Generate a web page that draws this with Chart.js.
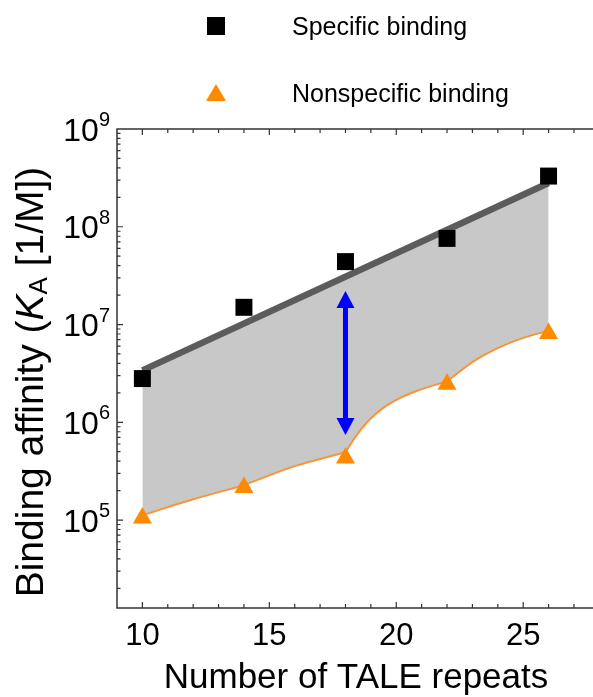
<!DOCTYPE html>
<html>
<head>
<meta charset="utf-8">
<script src="https://cdn.jsdelivr.net/npm/chart.js@4.4.1/dist/chart.umd.min.js"></script>
<style>
  html, body { margin: 0; padding: 0; background: #fff; }
  #wrap { width: 593px; height: 697px; }
</style>
</head>
<body>
<div id="wrap"><canvas id="chart" width="593" height="697"></canvas></div>
<script>
  // datos
  const repeats = [10, 14, 18, 22, 26];
  const specific = [2.8e6, 1.5e7, 4.4e7, 7.6e7, 3.3e8];
  const nonspecific = [1.05e5, 2.15e5, 4.3e5, 2.45e6, 8.1e6];
  // recta de ajuste (gris oscuro)
  const fitX = [10, 26];
  const fitY = [3.4e6, 2.8e8];
  // curva naranja, un tramo entre cada par de triangulos
  const curve1X = [10, 12, 14];
  const curve1Y = [1.12e5, 1.63e5, 2.27e5];
  const curve2X = [14, 16, 18];
  const curve2Y = [2.27e5, 3.56e5, 4.94e5];
  const curve3X = [18, 18.4, 18.8, 19.2, 19.6, 20.2, 20.8, 21.4, 22];
  const curve3Y = [4.94e5, 7.14e5, 9.66e5, 1.22e6, 1.47e6, 1.8e6, 2.09e6, 2.36e6, 2.62e6];
  const curve4X = [22, 23, 23.68, 24.35, 24.98, 25.65, 26];
  const curve4Y = [2.62e6, 4.12e6, 5.22e6, 6.3e6, 7.26e6, 8.17e6, 8.56e6];
  const xTicks = [10, 15, 20, 25];
  const yDecades = [5, 6, 7, 8, 9];
  const arrowX = 18;
  const arrowFrom = 7.4e5;
  const arrowTo = 2.2e7;

  const FONT = '"Liberation Sans", Arial, sans-serif';
  const orange = "#ff8a00";
  const orangeLine = "#f7953a";
  const gris = "#c8c8c8";

  const pts = (xs, ys) => xs.map((x, i) => ({ x: x, y: ys[i] }));

  const tramos = [
    [curve1X, curve1Y],
    [curve2X, curve2Y],
    [curve3X, curve3Y],
    [curve4X, curve4Y],
  ];

  // borde inferior del relleno: todos los tramos unidos (sin repetir los nudos)
  const bordeX = [];
  const bordeY = [];
  tramos.forEach(([xs, ys], i) => {
    const desde = i === 0 ? 0 : 1;
    bordeX.push(...xs.slice(desde));
    bordeY.push(...ys.slice(desde));
  });

  // marco, ticks, textos y flecha
  const decoraciones = {
    id: "decoraciones",
    afterDraw(chart) {
      const ctx = chart.ctx;
      const xs = chart.scales.x;
      const ys = chart.scales.y;
      const a = chart.chartArea;

      ctx.save();
      ctx.strokeStyle = "#333";
      ctx.lineWidth = 1.5;
      ctx.beginPath();
      ctx.moveTo(a.right, a.top);
      ctx.lineTo(a.left, a.top);
      ctx.lineTo(a.left, a.bottom);
      ctx.lineTo(a.right, a.bottom);
      ctx.stroke();

      // ticks hacia adentro
      ctx.lineWidth = 1.2;
      ctx.beginPath();
      for (let v = 10; v <= 27; v++) {
        const px = xs.getPixelForValue(v);
        const len = v % 5 === 0 ? 6 : 4;
        ctx.moveTo(px, a.bottom);
        ctx.lineTo(px, a.bottom - len);
        ctx.moveTo(px, a.top);
        ctx.lineTo(px, a.top + len);
      }
      for (let d = 4; d <= 8; d++) {
        for (let m = 1; m <= 9; m++) {
          const val = m * Math.pow(10, d);
          if (val < ys.min || val > ys.max) continue;
          const py = ys.getPixelForValue(val);
          const len = m === 1 ? 6 : 3.5;
          ctx.moveTo(a.left, py);
          ctx.lineTo(a.left + len, py);
        }
      }
      ctx.stroke();

      ctx.fillStyle = "#000";
      // etiquetas eje x
      ctx.font = "31px " + FONT;
      ctx.textAlign = "center";
      ctx.textBaseline = "alphabetic";
      xTicks.forEach((v) => {
        ctx.fillText(String(v), xs.getPixelForValue(v), 645);
      });

      // etiquetas eje y (10 con exponente)
      yDecades.forEach((e) => {
        const py = ys.getPixelForValue(Math.pow(10, e));
        ctx.font = "20px " + FONT;
        const wSup = ctx.measureText(String(e)).width;
        ctx.textAlign = "left";
        ctx.fillText(String(e), 110 - wSup, py - 3);
        ctx.font = "32px " + FONT;
        ctx.textAlign = "right";
        ctx.fillText("10", 110 - wSup, py + 11.5);
      });

      // titulo eje x
      ctx.font = "35px " + FONT;
      ctx.textAlign = "center";
      ctx.fillText("Number of TALE repeats", 356, 688);

      // titulo eje y, rotado
      const partes = [
        { t: "Binding affinity (", f: "39px " + FONT, dy: 0 },
        { t: "K", f: "italic 39px " + FONT, dy: 0 },
        { t: "A", f: "26px " + FONT, dy: 4 },
        { t: " [1/M])", f: "39px " + FONT, dy: 0 },
      ];
      let total = 0;
      partes.forEach((p) => {
        ctx.font = p.f;
        p.w = ctx.measureText(p.t).width;
        total += p.w;
      });
      ctx.translate(43, 382);
      ctx.rotate(-Math.PI / 2);
      ctx.textAlign = "left";
      let cx = -total / 2;
      partes.forEach((p) => {
        ctx.font = p.f;
        ctx.fillText(p.t, cx, p.dy);
        cx += p.w;
      });
      ctx.setTransform(1, 0, 0, 1, 0, 0);

      // leyenda
      ctx.fillStyle = "#000";
      ctx.fillRect(207, 17, 18, 18);
      ctx.fillStyle = orange;
      ctx.beginPath();
      ctx.moveTo(216, 84);
      ctx.lineTo(226, 101);
      ctx.lineTo(206, 101);
      ctx.closePath();
      ctx.fill();
      ctx.fillStyle = "#000";
      ctx.font = "25px " + FONT;
      ctx.textAlign = "left";
      ctx.fillText("Specific binding", 292, 35);
      ctx.fillText("Nonspecific binding", 292, 102);

      // flecha doble azul
      const ax = xs.getPixelForValue(arrowX);
      const yTop = ys.getPixelForValue(arrowTo);
      const yBot = ys.getPixelForValue(arrowFrom);
      const head = 17;
      const half = 9;
      ctx.fillStyle = "#0000ff";
      ctx.fillRect(ax - 2.5, yTop + head - 1, 5, yBot - yTop - 2 * head + 2);
      ctx.beginPath();
      ctx.moveTo(ax, yTop);
      ctx.lineTo(ax + half, yTop + head);
      ctx.lineTo(ax - half, yTop + head);
      ctx.closePath();
      ctx.fill();
      ctx.beginPath();
      ctx.moveTo(ax, yBot);
      ctx.lineTo(ax + half, yBot - head);
      ctx.lineTo(ax - half, yBot - head);
      ctx.closePath();
      ctx.fill();
      ctx.restore();
    },
  };

  const datasets = [
    {
      label: "Specific binding",
      data: pts(repeats, specific),
      pointStyle: "rect",
      pointRadius: 12,
      pointHoverRadius: 12,
      backgroundColor: "#000",
      borderColor: "#000",
      borderWidth: 0,
      showLine: false,
    },
    {
      label: "Nonspecific binding",
      data: pts(repeats, nonspecific),
      pointStyle: "triangle",
      pointRadius: 11,
      pointHoverRadius: 11,
      backgroundColor: orange,
      borderColor: orange,
      borderWidth: 0,
      showLine: false,
    },
    {
      label: "Ajuste",
      data: pts(fitX, fitY),
      showLine: true,
      borderColor: "#5c5c5c",
      borderWidth: 6.5,
      pointRadius: 0,
      fill: false,
    },
  ];

  // tramos naranjas (solo linea)
  tramos.forEach(([xs, ys], i) => {
    datasets.push({
      label: "Curva " + (i + 1),
      data: pts(xs, ys),
      showLine: true,
      cubicInterpolationMode: "monotone",
      borderColor: orangeLine,
      borderWidth: 2,
      pointRadius: 0,
      fill: false,
    });
  });

  // relleno gris entre la curva y la recta (dataset 2); va ultimo para dibujarse debajo
  datasets.push({
    label: "Relleno",
    data: pts(bordeX, bordeY),
    showLine: true,
    borderWidth: 0,
    borderColor: "rgba(0,0,0,0)",
    pointRadius: 0,
    fill: 2,
    backgroundColor: gris,
  });

  new Chart(document.getElementById("chart"), {
    type: "scatter",
    data: { datasets: datasets },
    options: {
      responsive: false,
      animation: false,
      layout: {
        autoPadding: false,
        padding: { left: 117, top: 129, right: 0, bottom: 89 },
      },
      plugins: {
        legend: { display: false },
        tooltip: { enabled: false },
      },
      scales: {
        x: { type: "linear", min: 9, max: 27.75, display: false },
        y: { type: "logarithmic", min: 12600, max: 1e9, display: false },
      },
    },
    plugins: [decoraciones],
  });
</script>
</body>
</html>
